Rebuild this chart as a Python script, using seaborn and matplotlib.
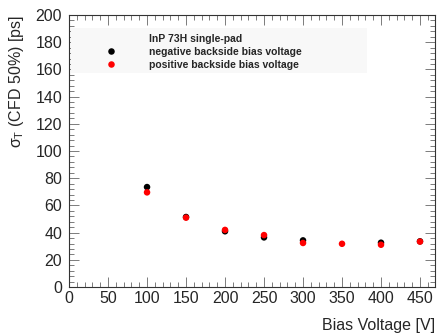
import pandas as pd
import matplotlib
matplotlib.use("Agg")
import matplotlib.pyplot as plt
import seaborn as sns
from matplotlib.ticker import MultipleLocator
from matplotlib.patches import Rectangle
from matplotlib.lines import Line2D

# ── DATA ───────────────────────────────────────────────
neg_voltage = [100, 150, 200, 250, 300, 400, 450]
neg_sigma = [73.5, 51.5, 41.0, 36.5, 34.3, 32.6, 33.6]

pos_voltage = [100, 150, 200, 250, 300, 350, 400, 450]
pos_sigma = [69.6, 51.0, 42.0, 38.2, 32.4, 31.8, 31.1, 33.4]

neg_label = "negative backside bias voltage"
pos_label = "positive backside bias voltage"
title_label = "InP 73H single-pad"

df = pd.concat([
    pd.DataFrame({"voltage": neg_voltage, "sigma": neg_sigma, "bias": neg_label}),
    pd.DataFrame({"voltage": pos_voltage, "sigma": pos_sigma, "bias": pos_label}),
])

# ── STYLE ──────────────────────────────────────────────
sns.set_style("ticks")
plt.rcParams["font.family"] = ["Liberation Sans", "DejaVu Sans"]
plt.rcParams["mathtext.fontset"] = "custom"
plt.rcParams["mathtext.rm"] = "Liberation Sans"
plt.rcParams["mathtext.it"] = "Liberation Sans"

fig = plt.figure(figsize=(4.37, 3.33), dpi=100)
ax = fig.add_axes([0.158, 0.138, 0.837, 0.817])

sns.scatterplot(data=df, x="voltage", y="sigma", hue="bias",
                palette={neg_label: "black", pos_label: "red"},
                s=22, edgecolor="none", ax=ax, zorder=3)

ax.set_xlim(0, 469)
ax.set_ylim(0, 200)
ax.xaxis.set_major_locator(MultipleLocator(50))
ax.xaxis.set_minor_locator(MultipleLocator(10))
ax.yaxis.set_major_locator(MultipleLocator(20))
ax.yaxis.set_minor_locator(MultipleLocator(4))
ax.tick_params(which="both", direction="in", top=True, right=True,
               labeltop=False, labelright=False, color="#666666", width=0.6)
ax.tick_params(which="major", length=7, labelsize=11.5)
ax.tick_params(axis="x", which="major", pad=3)
ax.tick_params(axis="y", which="major", pad=5)
ax.tick_params(which="minor", length=3.5)
for sp in ax.spines.values():
    sp.set_linewidth(0.8)
    sp.set_color("#333333")

ax.set_xlabel("Bias Voltage [V]", fontsize=11.5)
ax.xaxis.set_label_coords(1.0, -0.115)
ax.xaxis.label.set_horizontalalignment("right")
ax.set_ylabel(r"$\sigma_\mathrm{T}$ (CFD 50%) [ps]", fontsize=11.5)
ax.yaxis.set_label_coords(-0.118, 1.0)
ax.yaxis.label.set_horizontalalignment("right")

# legend background box
ax.add_patch(Rectangle((0.004, 0.787), 0.81, 0.165, transform=ax.transAxes,
                       facecolor="#f8f8f8", edgecolor="none", zorder=1))
handles, labels = ax.get_legend_handles_labels()
handles = [Line2D([], [], linestyle="none")] + handles
labels = [title_label] + labels
leg = ax.legend(handles, labels, loc="upper left", bbox_to_anchor=(0.064, 0.962),
                frameon=False, prop={"weight": "bold", "size": 7.5},
                handletextpad=2.6, labelspacing=0.3, borderpad=0.3,
                markerscale=1.0)

fig.savefig("out.png", dpi=100)
